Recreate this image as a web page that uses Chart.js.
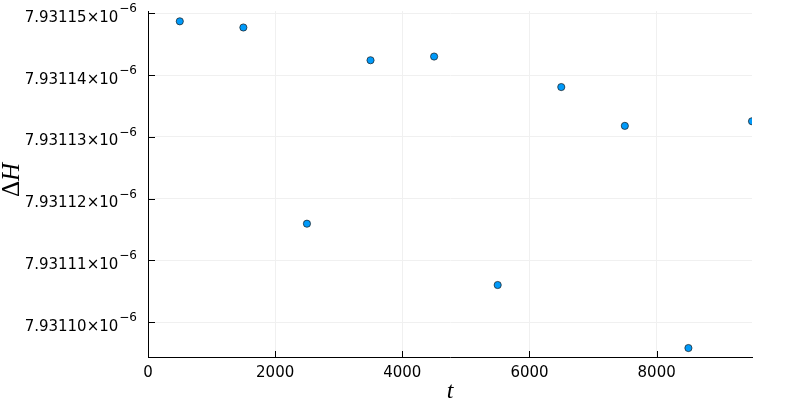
<!DOCTYPE html>
<html>
<head>
<meta charset="utf-8">
<script src="https://cdn.jsdelivr.net/npm/chart.js@4"></script>
<style>
  html, body { margin: 0; padding: 0; background: #fff; }
  #chartDH { display: block; }
</style>
</head>
<body>
<canvas id="chartDH" width="800" height="400"></canvas>
<script>
// datos
const tValues = [500, 1500, 2500, 3500, 4500, 5500, 6500, 7500, 8500, 9500];
const dH = [
  7.9311487e-6, 7.9311477e-6, 7.93111595e-6, 7.9311424e-6, 7.931143e-6,
  7.93110603e-6, 7.93113806e-6, 7.93113178e-6, 7.93109583e-6, 7.93113253e-6,
];
const xTicks = [0, 2000, 4000, 6000, 8000];
const yTicks = [7.9311e-6, 7.93111e-6, 7.93112e-6, 7.93113e-6, 7.93114e-6, 7.93115e-6];
const yTickLabels = ["7.93110", "7.93111", "7.93112", "7.93113", "7.93114", "7.93115"];
const yExp = "−6";
const xRange = [0, 9500];
const yRange = [7.93109438e-6, 7.93115037e-6];

const GRID = "#f0f0f0";
const BLUE = "#009afa";

// ticks hacia dentro, etiquetas con exponente y títulos
const axisDeco = {
  id: "axisDeco",
  afterDraw(chart) {
    const { ctx, chartArea, scales } = chart;
    const { x, y } = scales;
    ctx.save();
    ctx.strokeStyle = "#000";
    ctx.lineWidth = 1;
    ctx.beginPath();
    yTicks.forEach((v) => {
      const py = Math.round(y.getPixelForValue(v)) + 0.5;
      ctx.moveTo(chartArea.left, py);
      ctx.lineTo(chartArea.left + 7, py);
    });
    xTicks.forEach((v) => {
      const px = Math.round(x.getPixelForValue(v)) + 0.5;
      ctx.moveTo(px, chartArea.bottom);
      ctx.lineTo(px, chartArea.bottom - 6);
    });
    ctx.stroke();

    ctx.fillStyle = "#000";
    ctx.textAlign = "right";
    ctx.textBaseline = "alphabetic";
    const right = 137;
    yTicks.forEach((v, i) => {
      const py = y.getPixelForValue(v);
      ctx.font = "12px 'DejaVu Sans'";
      const ew = ctx.measureText(yExp).width;
      ctx.fillText(yExp, right, py - 1);
      ctx.font = "15px 'DejaVu Sans'";
      ctx.fillText(yTickLabels[i] + "×10", right - ew - 1, py + 8.5);
    });

    // títulos: t abajo, ΔH girado (Δ recta, H cursiva)
    ctx.textAlign = "center";
    ctx.textBaseline = "middle";
    ctx.font = "italic 24px 'Liberation Serif'";
    ctx.fillText("t", (chartArea.left + chartArea.right) / 2, 392);
    ctx.translate(12, 180);
    ctx.rotate(-Math.PI / 2);
    ctx.textAlign = "left";
    ctx.font = "25px 'Liberation Serif'";
    const wD = ctx.measureText("Δ").width;
    ctx.font = "italic 25px 'Liberation Serif'";
    const wH = ctx.measureText("H").width;
    const x0 = -(wD + wH) / 2;
    ctx.font = "25px 'Liberation Serif'";
    ctx.fillText("Δ", x0, 0);
    ctx.font = "italic 25px 'Liberation Serif'";
    ctx.fillText("H", x0 + wD, 0);
    ctx.restore();
  },
};

new Chart(document.getElementById("chartDH"), {
  type: "scatter",
  data: {
    datasets: [
      {
        label: "ΔH",
        data: tValues.map((t, i) => ({ x: t, y: dH[i] })),
        backgroundColor: BLUE,
        borderColor: "#1a1a1a",
        borderWidth: 0.7,
        pointRadius: 3.6,
        pointHoverRadius: 3.6,
        clip: 0,
      },
    ],
  },
  options: {
    responsive: false,
    animation: false,
    events: [],
    layout: { padding: { left: 0, right: 48, top: 11, bottom: 0 } },
    plugins: { legend: { display: false }, tooltip: { enabled: false } },
    scales: {
      x: {
        type: "linear",
        min: xRange[0],
        max: xRange[1],
        afterBuildTicks: (s) => {
          s.ticks = xTicks.map((v) => ({ value: v }));
        },
        afterFit: (s) => {
          s.height = 43;
        },
        grid: { color: GRID, drawTicks: false },
        border: { color: "#000", width: 1 },
        ticks: {
          color: "#000",
          font: { family: "'DejaVu Sans'", size: 15 },
          padding: 7,
          maxRotation: 0,
          callback: (v) => String(v),
        },
      },
      y: {
        type: "linear",
        min: yRange[0],
        max: yRange[1],
        afterBuildTicks: (s) => {
          s.ticks = yTicks.map((v) => ({ value: v }));
        },
        afterFit: (s) => {
          s.width = 148;
        },
        grid: { color: GRID, drawTicks: false },
        border: { color: "#000", width: 1 },
        ticks: { display: false },
      },
    },
  },
  plugins: [axisDeco],
});
</script>
</body>
</html>
